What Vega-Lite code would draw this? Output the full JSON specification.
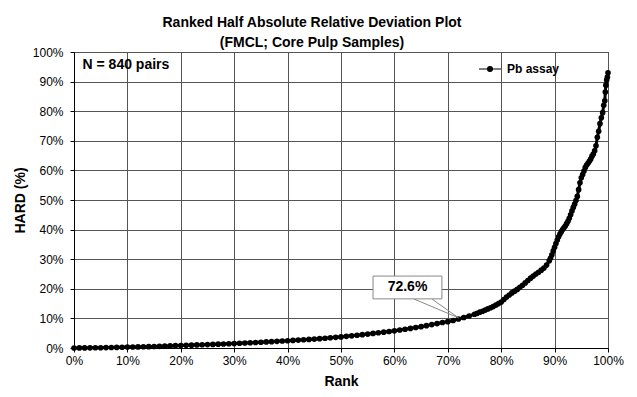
{
  "$schema": "https://vega.github.io/schema/vega-lite/v6.json",
  "width": 534,
  "height": 296,
  "autosize": {"type": "none"},
  "padding": {"left": 74, "top": 52, "right": 29, "bottom": 49},
  "background": "white",
  "config": {
    "font": "Liberation Sans",
    "view": {"stroke": "#333", "strokeWidth": 1}
  },
  "title": {
    "text": ["Ranked Half Absolute Relative Deviation Plot", "(FMCL; Core Pulp Samples)"],
    "fontSize": 14,
    "fontWeight": "bold",
    "lineHeight": 20,
    "anchor": "middle",
    "dx": -29,
    "offset": -4,
    "color": "black",
    "font": "Liberation Sans"
  },
  "datasets": {
    "hard": [
      {"rank": 0, "hard": 0.0}, {"rank": 1, "hard": 0.02}, {"rank": 2, "hard": 0.04}, {"rank": 3, "hard": 0.06},
      {"rank": 4, "hard": 0.08}, {"rank": 5, "hard": 0.1}, {"rank": 6, "hard": 0.13}, {"rank": 7, "hard": 0.17},
      {"rank": 8, "hard": 0.21}, {"rank": 9, "hard": 0.25}, {"rank": 10, "hard": 0.3}, {"rank": 11, "hard": 0.34},
      {"rank": 12, "hard": 0.38}, {"rank": 13, "hard": 0.42}, {"rank": 14, "hard": 0.46}, {"rank": 15, "hard": 0.5},
      {"rank": 16, "hard": 0.56}, {"rank": 17, "hard": 0.63}, {"rank": 18, "hard": 0.7}, {"rank": 19, "hard": 0.78},
      {"rank": 20, "hard": 0.85}, {"rank": 21, "hard": 0.91}, {"rank": 22, "hard": 0.97}, {"rank": 23, "hard": 1.03},
      {"rank": 24, "hard": 1.09}, {"rank": 25, "hard": 1.15}, {"rank": 26, "hard": 1.22}, {"rank": 27, "hard": 1.29},
      {"rank": 28, "hard": 1.36}, {"rank": 29, "hard": 1.43}, {"rank": 30, "hard": 1.5}, {"rank": 31, "hard": 1.59},
      {"rank": 32, "hard": 1.68}, {"rank": 33, "hard": 1.77}, {"rank": 34, "hard": 1.86}, {"rank": 35, "hard": 1.95},
      {"rank": 36, "hard": 2.05}, {"rank": 37, "hard": 2.15}, {"rank": 38, "hard": 2.25}, {"rank": 39, "hard": 2.35},
      {"rank": 40, "hard": 2.45}, {"rank": 41, "hard": 2.56}, {"rank": 42, "hard": 2.67}, {"rank": 43, "hard": 2.78},
      {"rank": 44, "hard": 2.89}, {"rank": 45, "hard": 3.0}, {"rank": 46, "hard": 3.15}, {"rank": 47, "hard": 3.3},
      {"rank": 48, "hard": 3.45}, {"rank": 49, "hard": 3.6}, {"rank": 50, "hard": 3.75}, {"rank": 51, "hard": 3.93},
      {"rank": 52, "hard": 4.12}, {"rank": 53, "hard": 4.31}, {"rank": 54, "hard": 4.5}, {"rank": 55, "hard": 4.7},
      {"rank": 56, "hard": 4.92}, {"rank": 57, "hard": 5.14}, {"rank": 58, "hard": 5.36}, {"rank": 59, "hard": 5.58},
      {"rank": 60, "hard": 5.8}, {"rank": 61, "hard": 6.07}, {"rank": 62, "hard": 6.35}, {"rank": 63, "hard": 6.63},
      {"rank": 64, "hard": 6.91}, {"rank": 65, "hard": 7.2}, {"rank": 66, "hard": 7.55}, {"rank": 67, "hard": 7.9},
      {"rank": 68, "hard": 8.25}, {"rank": 69, "hard": 8.6}, {"rank": 70, "hard": 8.9}, {"rank": 71, "hard": 9.3},
      {"rank": 72, "hard": 9.8}, {"rank": 73, "hard": 10.3}, {"rank": 74, "hard": 10.8}, {"rank": 75, "hard": 11.4},
      {"rank": 75.5, "hard": 11.7}, {"rank": 76, "hard": 12.1}, {"rank": 76.5, "hard": 12.4}, {"rank": 77, "hard": 12.8},
      {"rank": 77.5, "hard": 13.2}, {"rank": 78, "hard": 13.6}, {"rank": 78.5, "hard": 14.0}, {"rank": 79, "hard": 14.5},
      {"rank": 79.5, "hard": 15.0}, {"rank": 80, "hard": 15.5}, {"rank": 80.5, "hard": 16.4}, {"rank": 81, "hard": 17.2},
      {"rank": 81.5, "hard": 17.9}, {"rank": 82, "hard": 18.6}, {"rank": 82.5, "hard": 19.2}, {"rank": 83, "hard": 19.8},
      {"rank": 83.5, "hard": 20.5}, {"rank": 84, "hard": 21.2}, {"rank": 84.5, "hard": 22.0}, {"rank": 85, "hard": 22.8},
      {"rank": 85.5, "hard": 23.6}, {"rank": 86, "hard": 24.3}, {"rank": 86.5, "hard": 25.0}, {"rank": 87, "hard": 25.6},
      {"rank": 87.5, "hard": 26.3}, {"rank": 88, "hard": 27.0}, {"rank": 88.5, "hard": 28.0}, {"rank": 89, "hard": 29.5},
      {"rank": 89.25, "hard": 30.4}, {"rank": 89.5, "hard": 31.5}, {"rank": 89.75, "hard": 32.8}, {"rank": 90, "hard": 34.0},
      {"rank": 90.25, "hard": 35.3}, {"rank": 90.5, "hard": 36.5}, {"rank": 90.75, "hard": 37.6}, {"rank": 91, "hard": 38.5},
      {"rank": 91.25, "hard": 39.3}, {"rank": 91.5, "hard": 40.0}, {"rank": 91.75, "hard": 40.6}, {"rank": 92, "hard": 41.2},
      {"rank": 92.25, "hard": 42.0}, {"rank": 92.5, "hard": 42.8}, {"rank": 92.75, "hard": 43.8}, {"rank": 93, "hard": 45.0},
      {"rank": 93.25, "hard": 46.3}, {"rank": 93.5, "hard": 47.5}, {"rank": 93.75, "hard": 48.6}, {"rank": 94, "hard": 49.8},
      {"rank": 94.25, "hard": 51.2}, {"rank": 94.5, "hard": 53.5}, {"rank": 94.75, "hard": 55.8}, {"rank": 95, "hard": 57.5},
      {"rank": 95.25, "hard": 58.6}, {"rank": 95.5, "hard": 59.8}, {"rank": 95.75, "hard": 61.0}, {"rank": 96, "hard": 61.8},
      {"rank": 96.25, "hard": 62.4}, {"rank": 96.5, "hard": 63.1}, {"rank": 96.75, "hard": 63.8}, {"rank": 97, "hard": 64.8},
      {"rank": 97.25, "hard": 65.5}, {"rank": 97.5, "hard": 66.6}, {"rank": 97.75, "hard": 68.3}, {"rank": 98, "hard": 71.2},
      {"rank": 98.25, "hard": 73.2}, {"rank": 98.5, "hard": 75.8}, {"rank": 98.75, "hard": 77.8}, {"rank": 99, "hard": 79.5},
      {"rank": 99.2, "hard": 82.0}, {"rank": 99.4, "hard": 83.5}, {"rank": 99.5, "hard": 86.5}, {"rank": 99.6, "hard": 88.8},
      {"rank": 99.75, "hard": 90.5}, {"rank": 99.88, "hard": 91.5}, {"rank": 100, "hard": 93.0}
    ],
    "box": [{"rank": 56.0, "rank2": 68.9, "hard": 24.3, "hard2": 16.6}],
    "leader": [
      {"rank": 63.6, "hard": 16.6, "o": 1},
      {"rank": 72.0, "hard": 10.2, "o": 2},
      {"rank": 67.0, "hard": 16.6, "o": 3}
    ],
    "callout": [{"rank": 62.45, "hard": 20.45, "text": "72.6%"}],
    "note": [{"rank": 1.6, "hard": 95.6, "text": "N = 840 pairs"}]
  },
  "encoding": {
    "x": {
      "field": "rank", "type": "quantitative",
      "scale": {"domain": [0, 100], "nice": false, "zero": false},
      "axis": {
        "tickCount": 10,
        "labelExpr": "datum.value + '%'",
        "labelOverlap": false,
        "grid": true, "gridColor": "#555", "gridWidth": 1,
        "domainColor": "black", "tickColor": "black", "tickSize": 4,
        "labelFontSize": 12, "labelColor": "black", "labelPadding": 3, "labelFlush": false,
        "labelFont": "Liberation Sans",
        "title": "Rank", "titleFontSize": 14, "titleFontWeight": "bold", "titleColor": "black",
        "titleFont": "Liberation Sans", "titlePadding": 8
      }
    },
    "y": {
      "field": "hard", "type": "quantitative",
      "scale": {"domain": [0, 100], "nice": false, "zero": false},
      "axis": {
        "tickCount": 10,
        "labelExpr": "datum.value + '%'",
        "labelOverlap": false,
        "grid": true, "gridColor": "#555", "gridWidth": 1,
        "domainColor": "black", "tickColor": "black", "tickSize": 4,
        "labelFontSize": 12, "labelColor": "black", "labelPadding": 7, "labelFlush": false,
        "labelFont": "Liberation Sans",
        "title": "HARD (%)", "titleFontSize": 14, "titleFontWeight": "bold", "titleColor": "black",
        "titleFont": "Liberation Sans", "titlePadding": 5
      }
    }
  },
  "layer": [
    {
      "data": {"name": "hard"},
      "mark": {"type": "line", "color": "black", "strokeWidth": 3, "clip": false},
      "encoding": {
        "color": {
          "datum": "Pb assay", "type": "nominal",
          "scale": {"range": ["black"]},
          "legend": {
            "title": null,
            "orient": "none",
            "legendX": 404,
            "legendY": 5,
            "padding": 0,
            "symbolType": "M-1,0H1M-0.22,0A0.22,0.22,0,1,1,0.22,0A0.22,0.22,0,1,1,-0.22,0Z",
            "symbolSize": 484,
            "symbolStrokeWidth": 1.2,
            "labelFontSize": 12,
            "labelFontWeight": "bold",
            "labelColor": "black",
            "labelFont": "Liberation Sans",
            "labelOffset": 5,
            "encode": {
              "symbols": {
                "update": {
                  "fill": {"value": "black"},
                  "stroke": {"value": "#333"},
                  "strokeWidth": {"value": 1.2},
                  "opacity": {"value": 1}
                }
              }
            }
          }
        }
      }
    },
    {
      "data": {"name": "hard"},
      "mark": {"type": "point", "filled": true, "color": "black", "size": 32, "opacity": 1, "clip": false},
      "encoding": {}
    },
    {
      "data": {"name": "leader"},
      "mark": {"type": "line", "color": "#888", "strokeWidth": 1},
      "encoding": {
        "order": {"field": "o", "type": "quantitative"}
      }
    },
    {
      "data": {"name": "box"},
      "mark": {"type": "rect", "fill": "white", "stroke": "#888", "strokeWidth": 1},
      "encoding": {
        "x2": {"field": "rank2"},
        "y2": {"field": "hard2"}
      }
    },
    {
      "data": {"name": "callout"},
      "mark": {"type": "text", "fontSize": 14, "fontWeight": "bold", "color": "black", "align": "center", "baseline": "middle", "font": "Liberation Sans"},
      "encoding": {
        "text": {"field": "text"}
      }
    },
    {
      "data": {"name": "note"},
      "mark": {"type": "text", "fontSize": 14, "fontWeight": "bold", "color": "black", "align": "left", "baseline": "middle", "font": "Liberation Sans"},
      "encoding": {
        "text": {"field": "text"}
      }
    }
  ]
}
